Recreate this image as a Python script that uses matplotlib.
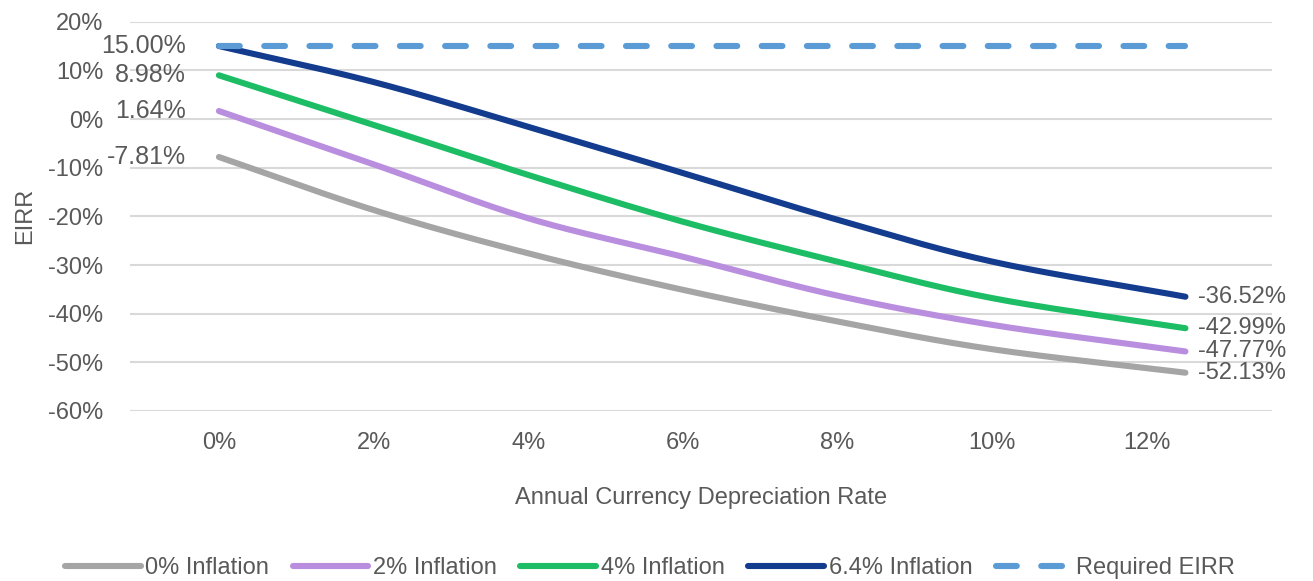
import numpy as np
import matplotlib.pyplot as plt
from matplotlib.ticker import FuncFormatter

# depreciation rate (%) and EIRR (%) for each inflation scenario
depreciation = [0, 2, 4, 6, 8, 10, 12.5]
eirr_0 = [-7.81, -18.7, -27.6, -35.1, -41.6, -47.3, -52.13]
eirr_2 = [1.64, -9.3, -20.4, -28.3, -36.3, -42.3, -47.77]
eirr_4 = [8.98, -1.2, -11.5, -21.1, -29.3, -36.8, -42.99]
eirr_64 = [15.00, 7.6, -1.6, -11.1, -20.7, -29.3, -36.52]
required_eirr = 15.0

series_names = ["0% Inflation", "2% Inflation", "4% Inflation", "6.4% Inflation"]
series_colors = ["#A5A5A5", "#BA8EDE", "#1DBD66", "#133B8E"]

TXT = "#595959"
FS = 17
plt.rcParams['font.family'] = ['Liberation Sans', 'DejaVu Sans']


def smooth(xs, ys, n=40):
    # Catmull-Rom spline through the points, like a "smoothed line" chart
    x = np.asarray(xs, float)
    y = np.asarray(ys, float)
    px = np.concatenate([[2 * x[0] - x[1]], x, [2 * x[-1] - x[-2]]])
    py = np.concatenate([[2 * y[0] - y[1]], y, [2 * y[-1] - y[-2]]])
    t = np.linspace(0, 1, n)[:-1]
    ox, oy = [], []
    for i in range(1, len(px) - 2):
        for p, out in ((px, ox), (py, oy)):
            p0, p1, p2, p3 = p[i - 1], p[i], p[i + 1], p[i + 2]
            out.extend(0.5 * ((2 * p1) + (-p0 + p2) * t
                              + (2 * p0 - 5 * p1 + 4 * p2 - p3) * t ** 2
                              + (-p0 + 3 * p1 - 3 * p2 + p3) * t ** 3))
    ox.append(x[-1])
    oy.append(y[-1])
    return ox, oy


fig = plt.figure(figsize=(13.13, 5.81), dpi=100)
ax = fig.add_axes([0.099, 0.2926, 0.8698, 0.6701])

for ys, name, col in zip([eirr_0, eirr_2, eirr_4, eirr_64], series_names, series_colors):
    sx, sy = smooth(depreciation, ys)
    ax.plot(sx, sy, color=col, lw=4.4, solid_capstyle='round', label=name, zorder=3)
    ax.annotate(f"{ys[0]:.2f}%", (depreciation[0], ys[0]), xytext=(-24, 0),
                textcoords='offset points', ha='right', va='center',
                fontsize=18, color=TXT)
    ax.annotate(f"{ys[-1]:.2f}%", (depreciation[-1], ys[-1]), xytext=(9, 0),
                textcoords='offset points', ha='left', va='center',
                fontsize=17, color=TXT)

ax.plot([depreciation[0], depreciation[-1]], [required_eirr, required_eirr],
        color="#5B9BD5", lw=4.4, dashes=(3.4, 4.0), dash_capstyle='round',
        label="Required EIRR", zorder=4)

ax.set_xlim(-1.15, 13.62)
ax.set_ylim(-60, 20)
ax.set_xticks([0, 2, 4, 6, 8, 10, 12])
ax.set_yticks(range(-60, 21, 10))
ax.xaxis.set_major_formatter(FuncFormatter(lambda v, p: f"{v:.0f}%"))
ax.yaxis.set_major_formatter(FuncFormatter(lambda v, p: f"{v:.0f}%"))
ax.tick_params(length=0, labelsize=FS, labelcolor=TXT)
ax.tick_params(axis='y', pad=19)
ax.tick_params(axis='x', pad=15)
ax.grid(axis='y', color="#D9D9D9", lw=1.5)
ax.set_axisbelow(True)
for s in ax.spines.values():
    s.set_visible(False)

ax.set_xlabel("Annual Currency Depreciation Rate", fontsize=FS, color=TXT, labelpad=24)
ax.set_ylabel("EIRR", fontsize=FS, color=TXT)
ax.yaxis.set_label_coords(-0.082, 0.5)

fig.legend(loc='center', bbox_to_anchor=(0.495, 1 - 568 / 581), ncol=5,
           frameon=False, fontsize=FS, labelcolor=TXT, handlelength=3.2,
           handletextpad=0.2, columnspacing=1.0)

fig.savefig("out.png", dpi=100)
